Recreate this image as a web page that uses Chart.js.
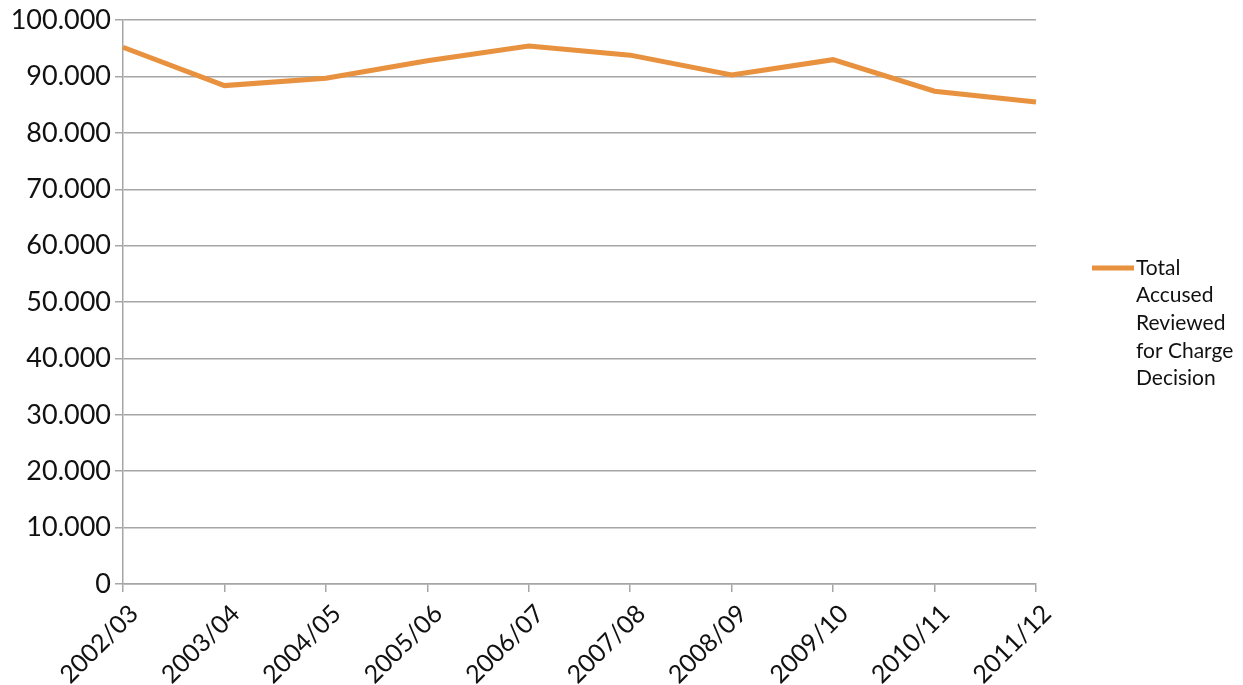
<!DOCTYPE html>
<html>
<head>
<meta charset="utf-8">
<script src="https://cdn.jsdelivr.net/npm/chart.js@4/dist/chart.umd.min.js"></script>
<style>
  body { margin: 0; background: #fff; }
  canvas { display: block; }
</style>
</head>
<body>
<canvas id="accusedChart" width="1243" height="685"></canvas>
<script>
// data
var yearLabels = ["2002/03", "2003/04", "2004/05", "2005/06", "2006/07", "2007/08", "2008/09", "2009/10", "2010/11", "2011/12"];
var accusedValues = [95200, 88400, 89700, 92800, 95400, 93800, 90300, 93000, 87400, 85500];
var seriesName = ["Total", "Accused", "Reviewed", "for Charge", "Decision"]; // legend wraps over lines

var lineColor = "#E8913F";
var gridColor = "#A6A6A6";
var fontName = "Lato, 'Open Sans', sans-serif";

// legend drawn by hand so it can wrap like the original
var wrapLegend = {
    id: "wrapLegend",
    afterDraw: function (chart) {
        var ctx = chart.ctx;
        var x = chart.chartArea.right + 56;
        var y = 268;
        ctx.save();
        ctx.strokeStyle = lineColor;
        ctx.lineWidth = 5;
        ctx.beginPath();
        ctx.moveTo(x, y);
        ctx.lineTo(x + 42, y);
        ctx.stroke();
        ctx.fillStyle = "#111";
        ctx.font = "21px " + fontName;
        ctx.textBaseline = "middle";
        for (var i = 0; i < seriesName.length; i++) {
            ctx.fillText(seriesName[i], x + 44, y + i * 27.6);
        }
        ctx.restore();
    }
};

var ctx = document.getElementById("accusedChart");

var accusedChart = new Chart(ctx, {
    type: "line",
    data: {
        labels: yearLabels,
        datasets: [{
            label: seriesName.join(" "),
            data: accusedValues,
            borderColor: lineColor,
            backgroundColor: lineColor,
            borderWidth: 5,
            pointRadius: 0,
            tension: 0,
            fill: false
        }]
    },
    options: {
        responsive: false,
        animation: false,
        layout: { padding: { top: 19, right: 207, left: 0, bottom: 0 } },
        plugins: {
            legend: { display: false },
            tooltip: { enabled: false }
        },
        scales: {
            x: {
                offset: false,
                grid: { drawOnChartArea: false, drawTicks: true, tickLength: 8, color: gridColor, lineWidth: 1.5 },
                border: { color: gridColor, width: 1.5 },
                ticks: {
                    minRotation: 45,
                    maxRotation: 45,
                    color: "#111",
                    font: { family: fontName, size: 25 },
                    padding: 7,
                    labelOffset: 11
                },
                afterFit: function (scale) { scale.height = 101; }
            },
            y: {
                min: 0,
                max: 100000,
                grid: { color: gridColor, lineWidth: 1.5, tickLength: 8 },
                border: { color: gridColor, width: 1.5 },
                ticks: {
                    stepSize: 10000,
                    color: "#111",
                    font: { family: fontName, size: 27 },
                    padding: 4,
                    callback: function (v) {
                        return v === 0 ? "0" : (v / 1000).toFixed(0) + ".000";
                    }
                },
                afterFit: function (scale) { scale.width = 123; }
            }
        }
    },
    plugins: [wrapLegend]
});
</script>
</body>
</html>
